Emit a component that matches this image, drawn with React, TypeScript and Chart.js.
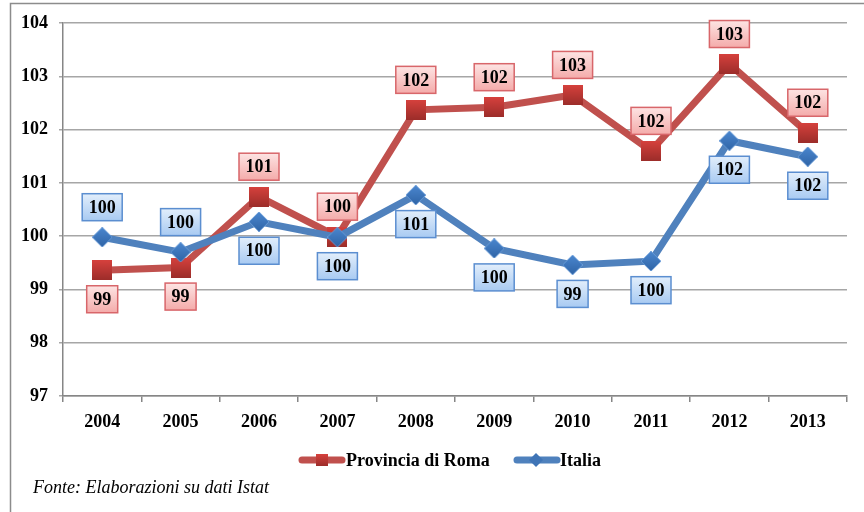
import React, { useEffect, useRef } from "react";
import { Chart, registerables } from "chart.js";

Chart.register(...registerables);

const years = ["2004", "2005", "2006", "2007", "2008", "2009", "2010", "2011", "2012", "2013"];
const romaValues = [99.36, 99.41, 100.74, 99.99, 102.37, 102.42, 102.65, 101.6, 103.23, 101.94];
const italiaValues = [99.98, 99.7, 100.27, 99.98, 100.77, 99.77, 99.46, 99.53, 101.79, 101.49];
const romaLabels = ["99", "99", "101", "100", "102", "102", "103", "102", "103", "102"];
const italiaLabels = ["100", "100", "100", "100", "101", "100", "99", "100", "102", "102"];
const romaBelow = [true, true, false, false, false, false, false, false, false, false];
const italiaBelow = [false, false, true, true, true, true, true, true, true, true];
const yMin = 97;
const yMax = 104;
const seriesNames = ["Provincia di Roma", "Italia"];
const sourceNote = "Fonte: Elaborazioni su dati Istat";

const RED = "#C0504D";
const BLUE = "#4F81BD";
const FONT = "Liberation Serif";

function makeSquare(size: number) {
  const c = document.createElement("canvas");
  c.width = size;
  c.height = size;
  const x = c.getContext("2d")!;
  const g = x.createLinearGradient(0, 0, 0, size);
  g.addColorStop(0, "#D6413D");
  g.addColorStop(1, "#9C2D2A");
  x.fillStyle = g;
  x.fillRect(0, 0, size, size);
  return c;
}

function makeDiamond(size: number) {
  const c = document.createElement("canvas");
  c.width = size;
  c.height = size;
  const x = c.getContext("2d")!;
  const h = size / 2;
  const g = x.createLinearGradient(0, 0, 0, size);
  g.addColorStop(0, "#4B87CF");
  g.addColorStop(1, "#2F64A6");
  x.fillStyle = g;
  x.beginPath();
  x.moveTo(h, 0);
  x.lineTo(size, h);
  x.lineTo(h, size);
  x.lineTo(0, h);
  x.closePath();
  x.fill();
  x.strokeStyle = "rgba(110,160,220,0.8)";
  x.lineWidth = 1;
  x.stroke();
  return c;
}

function drawBox(ctx: CanvasRenderingContext2D, cx: number, cy: number, text: string, red: boolean) {
  ctx.font = `bold 18px "${FONT}"`;
  const w = Math.round(ctx.measureText(text).width + 13);
  const h = 27;
  const x = cx - w / 2, y = cy - h / 2;
  const g = ctx.createLinearGradient(0, y, 0, y + h);
  if (red) {
    g.addColorStop(0, "#FDE4E3");
    g.addColorStop(1, "#F4ABAA");
  } else {
    g.addColorStop(0, "#E2EEFB");
    g.addColorStop(1, "#A8CAF2");
  }
  ctx.fillStyle = g;
  ctx.fillRect(x, y, w, h);
  ctx.lineWidth = 1.5;
  ctx.strokeStyle = red ? "#D8666A" : "#5B8ED0";
  ctx.strokeRect(x, y, w, h);
  ctx.fillStyle = "#000";
  ctx.textAlign = "center";
  ctx.textBaseline = "middle";
  ctx.fillText(text, cx, cy + 1);
}

const overlayPlugin = {
  id: "overlay",
  beforeDraw(chart: any) {
    const ctx = chart.ctx as CanvasRenderingContext2D;
    ctx.save();
    ctx.fillStyle = "#fff";
    ctx.fillRect(0, 0, chart.width, chart.height);
    ctx.strokeStyle = "#8C8C8C";
    ctx.lineWidth = 1.5;
    ctx.strokeRect(10.5, 3.5, 1000, 1000);
    ctx.restore();
  },
  afterDatasetsDraw(chart: any) {
    const ctx = chart.ctx as CanvasRenderingContext2D;
    ctx.save();
    const mR = chart.getDatasetMeta(0);
    const mI = chart.getDatasetMeta(1);
    mR.data.forEach((p: any, i: number) => {
      drawBox(ctx, p.x, p.y + (romaBelow[i] ? 29 : -30), romaLabels[i], true);
    });
    mI.data.forEach((p: any, i: number) => {
      drawBox(ctx, p.x, p.y + (italiaBelow[i] ? 29 : -30), italiaLabels[i], false);
    });
    ctx.restore();
  },
  afterDraw(chart: any) {
    const ctx = chart.ctx as CanvasRenderingContext2D;
    ctx.save();
    const ly = 460;
    ctx.strokeStyle = RED;
    ctx.lineWidth = 7;
    ctx.lineCap = "round";
    ctx.beginPath();
    ctx.moveTo(302, ly);
    ctx.lineTo(342, ly);
    ctx.stroke();
    const sq = ctx.createLinearGradient(0, ly - 6, 0, ly + 6);
    sq.addColorStop(0, "#D6413D");
    sq.addColorStop(1, "#9C2D2A");
    ctx.fillStyle = sq;
    ctx.fillRect(316, ly - 6, 12, 12);
    ctx.fillStyle = "#000";
    ctx.font = `bold 18px "${FONT}"`;
    ctx.textAlign = "left";
    ctx.textBaseline = "middle";
    ctx.fillText(seriesNames[0], 346, ly + 1);
    ctx.strokeStyle = BLUE;
    ctx.beginPath();
    ctx.moveTo(517, ly);
    ctx.lineTo(557, ly);
    ctx.stroke();
    ctx.fillStyle = "#3F74B6";
    ctx.beginPath();
    ctx.moveTo(536, ly - 7);
    ctx.lineTo(543, ly);
    ctx.lineTo(536, ly + 7);
    ctx.lineTo(529, ly);
    ctx.closePath();
    ctx.fill();
    ctx.fillStyle = "#000";
    ctx.fillText(seriesNames[1], 560, ly + 1);
    ctx.font = `italic 18px "${FONT}"`;
    ctx.fillText(sourceNote, 33, 488);
    ctx.restore();
  },
};

export default function App() {
  const ref = useRef<HTMLCanvasElement>(null);
  useEffect(() => {
    if (!ref.current) return;
    const tickFont = { family: FONT, size: 18, weight: "bold" as const };
    const chart = new Chart(ref.current, {
      type: "line",
      data: {
        labels: years,
        datasets: [
          {
            label: seriesNames[0],
            data: romaValues,
            borderColor: RED,
            backgroundColor: "#B93B37",
            borderWidth: 7,
            pointStyle: makeSquare(20) as any,
            pointRadius: 10,
            tension: 0,
            order: 2,
          },
          {
            label: seriesNames[1],
            data: italiaValues,
            borderColor: BLUE,
            backgroundColor: "#3F74B6",
            borderWidth: 7,
            pointStyle: makeDiamond(20) as any,
            pointRadius: 10,
            tension: 0,
            order: 1,
          },
        ],
      },
      options: {
        responsive: false,
        animation: false,
        events: [],
        layout: { padding: { left: 0, right: 14, top: 23, bottom: 0 } },
        plugins: { legend: { display: false }, tooltip: { enabled: false } },
        scales: {
          x: {
            offset: true,
            grid: { drawOnChartArea: false, drawTicks: true, tickLength: 6, color: "#868686", lineWidth: 1.5, offset: true },
            border: { color: "#868686", width: 1.5 },
            ticks: { font: tickFont, color: "#000", padding: 10 },
            afterFit: (s: any) => {
              s.height = 116;
            },
          },
          y: {
            min: yMin,
            max: yMax,
            ticks: { stepSize: 1, font: tickFont, color: "#000", padding: 11 },
            grid: { color: "#A6A6A6", lineWidth: 1.5, tickLength: 4 },
            border: { color: "#868686", width: 1.5 },
            afterFit: (s: any) => {
              s.width = 63;
            },
          },
        },
      },
      plugins: [overlayPlugin],
    });
    return () => chart.destroy();
  }, []);
  return (
    <div style={{ position: "absolute", left: 0, top: 0, width: 864, height: 512 }}>
      <canvas ref={ref} width={864} height={512} style={{ display: "block" }} />
    </div>
  );
}
